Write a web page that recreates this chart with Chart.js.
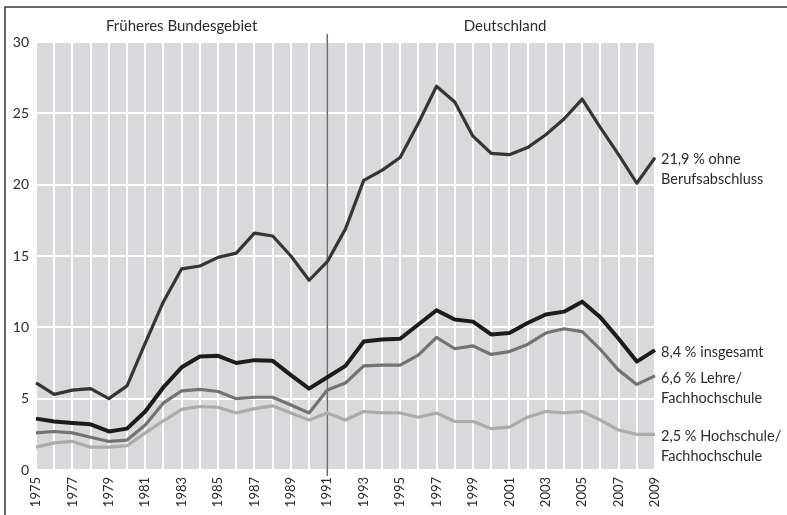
<!DOCTYPE html>
<html>
<head>
<meta charset="utf-8">
<script src="https://cdn.jsdelivr.net/npm/chart.js@4"></script>
<style>
  body { margin: 0; background: #fff; }
  #wrap { width: 787px; height: 515px; }
</style>
</head>
<body>
<div id="wrap"><canvas id="chart"></canvas></div>
<script>
const years = [1975, 1976, 1977, 1978, 1979, 1980, 1981, 1982, 1983, 1984, 1985, 1986,
  1987, 1988, 1989, 1990, 1991, 1992, 1993, 1994, 1995, 1996, 1997, 1998, 1999, 2000,
  2001, 2002, 2003, 2004, 2005, 2006, 2007, 2008, 2009];

const ohneAbschluss = [6.1, 5.3, 5.6, 5.7, 5.0, 5.9, 8.9, 11.8, 14.1, 14.3, 14.9, 15.2,
  16.6, 16.4, 15.0, 13.3, 14.6, 16.9, 20.3, 21.0, 21.9, 24.3, 26.9, 25.8, 23.4, 22.2,
  22.1, 22.6, 23.5, 24.6, 26.0, 24.0, 22.1, 20.1, 21.9];
const insgesamt = [3.6, 3.4, 3.3, 3.2, 2.7, 2.9, 4.1, 5.8, 7.2, 7.95, 8.0, 7.5,
  7.7, 7.65, 6.65, 5.7, 6.5, 7.3, 9.0, 9.15, 9.2, 10.2, 11.2, 10.55, 10.4, 9.5,
  9.6, 10.3, 10.9, 11.1, 11.8, 10.7, 9.2, 7.6, 8.4];
const lehre = [2.6, 2.7, 2.6, 2.3, 2.0, 2.1, 3.15, 4.7, 5.55, 5.65, 5.5, 5.0,
  5.1, 5.1, 4.55, 4.0, 5.6, 6.1, 7.3, 7.35, 7.35, 8.05, 9.3, 8.5, 8.7, 8.1,
  8.3, 8.8, 9.6, 9.9, 9.7, 8.45, 7.0, 6.0, 6.6];
const hochschule = [1.6, 1.9, 2.0, 1.6, 1.6, 1.7, 2.6, 3.45, 4.25, 4.45, 4.4, 4.0,
  4.3, 4.5, 4.0, 3.5, 4.0, 3.5, 4.1, 4.0, 4.0, 3.7, 4.0, 3.4, 3.4, 2.9,
  3.0, 3.7, 4.1, 4.0, 4.1, 3.5, 2.8, 2.5, 2.5];

const endLabels = [
  ['8,4 % insgesamt'],
  ['21,9 % ohne', 'Berufsabschluss'],
  ['6,6 % Lehre/', 'Fachhochschule'],
  ['2,5 % Hochschule/', 'Fachhochschule']
];
const regionLabels = ['Früheres Bundesgebiet', 'Deutschland'];
const splitYear = 1991;

const FONT = 'Lato, "Open Sans", sans-serif';
const TEXT = '#2b2b2b';

// gray plot background, 1991 divider and the region captions
const decor = {
  id: 'decor',
  beforeDraw(chart) {
    const { ctx, chartArea: a } = chart;
    ctx.save();
    ctx.fillStyle = '#d9d9db';
    ctx.fillRect(a.left, a.top, a.right - a.left, a.bottom - a.top);
    ctx.restore();
  },
  beforeDatasetsDraw(chart) {
    const { ctx, chartArea: a, scales } = chart;
    const xs = scales.x.getPixelForValue(years.indexOf(splitYear));
    ctx.save();
    ctx.strokeStyle = '#6a6a6a';
    ctx.lineWidth = 1.5;
    ctx.beginPath();
    ctx.moveTo(xs, a.top - 8);
    ctx.lineTo(xs, a.bottom + 6);
    ctx.stroke();
    ctx.restore();
  },
  afterDatasetsDraw(chart) {
    const { ctx, chartArea: a, scales } = chart;
    const xs = scales.x.getPixelForValue(years.indexOf(splitYear));
    ctx.save();
    ctx.fillStyle = TEXT;
    ctx.font = '15px ' + FONT;
    ctx.textAlign = 'center';
    ctx.textBaseline = 'middle';
    ctx.fillText(regionLabels[0], (a.left + xs) / 2, a.top - 16);
    ctx.fillText(regionLabels[1], (xs + a.right) / 2 + 14, a.top - 16);

    // labels at the line ends
    ctx.font = '14.5px ' + FONT;
    ctx.textAlign = 'left';
    chart.data.datasets.forEach((ds, i) => {
      const last = ds.data[ds.data.length - 1];
      const y = scales.y.getPixelForValue(last) + 2;
      endLabels[i].forEach((line, j) => {
        ctx.fillText(line, a.right + 6, y + j * 20);
      });
    });

    // frame
    ctx.strokeStyle = '#3a3a3a';
    ctx.lineWidth = 1.5;
    ctx.beginPath();
    ctx.moveTo(chart.width, 7);
    ctx.lineTo(5, 7);
    ctx.lineTo(5, chart.height);
    ctx.stroke();
    ctx.restore();
  }
};

const line = (label, data, color, width) => ({
  label, data,
  borderColor: color,
  borderWidth: width,
  pointRadius: 0,
  tension: 0,
  borderJoinStyle: 'round',
  fill: false
});

new Chart(document.getElementById('chart'), {
  type: 'line',
  data: {
    labels: years,
    datasets: [
      line('insgesamt', insgesamt, '#1c1c1c', 4),
      line('ohne Berufsabschluss', ohneAbschluss, '#353535', 3.2),
      line('Lehre/Fachhochschule', lehre, '#737373', 3.2),
      line('Hochschule/Fachhochschule', hochschule, '#ababab', 3.2)
    ]
  },
  options: {
    responsive: true,
    maintainAspectRatio: false,
    animation: false,
    layout: { padding: { top: 42, right: 132, left: 0, bottom: 0 } },
    plugins: {
      legend: { display: false },
      tooltip: { enabled: false }
    },
    scales: {
      x: {
        offset: false,
        border: { display: false },
        grid: { color: '#ffffff', lineWidth: 2, drawTicks: false },
        ticks: {
          autoSkip: false,
          maxRotation: 90,
          minRotation: 90,
          padding: 7,
          color: TEXT,
          font: { family: FONT, size: 13 },
          callback: (v, i) => (years[i] % 2 === 1 ? String(years[i]) : '')
        },
        afterFit: s => { s.height = 45; }
      },
      y: {
        min: 0,
        max: 30,
        border: { display: false },
        grid: { color: '#ffffff', lineWidth: 2, drawTicks: false },
        ticks: {
          stepSize: 5,
          padding: 7,
          color: TEXT,
          font: { family: FONT, size: 14 }
        },
        afterFit: s => { s.width = 36; }
      }
    }
  },
  plugins: [decor]
});
</script>
</body>
</html>
